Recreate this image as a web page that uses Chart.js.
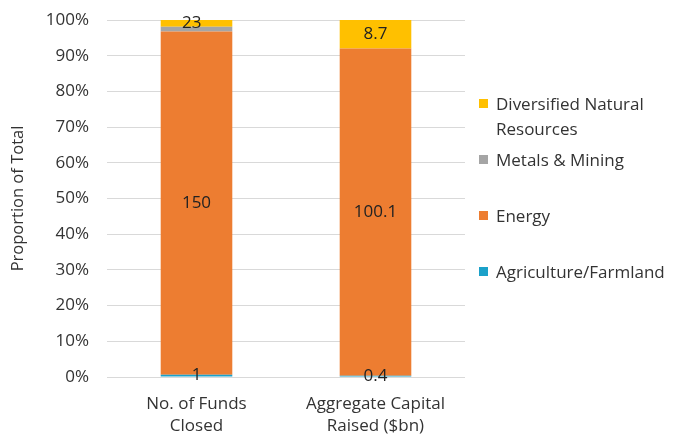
<!DOCTYPE html>
<html lang="en">
<head>
    <meta charset="UTF-8">
    <title>Proportion of Total</title>
    <script src="https://cdn.jsdelivr.net/npm/chart.js@4.4.1/dist/chart.umd.min.js"></script>
    <style>
        body {
            margin: 0;
            background: #fff;
            font-family: 'Open Sans', sans-serif;
        }
        #wrap {
            position: relative;
            width: 683px;
            height: 436px;
        }
        .legend-item {
            position: absolute;
            left: 479px;
            font-size: 17px;
            line-height: 25px;
            color: #333;
        }
        .legend-item span {
            position: absolute;
            left: 0;
            top: 8px;
            width: 9px;
            height: 9px;
        }
        .legend-item div {
            margin-left: 17px;
            white-space: nowrap;
        }
    </style>
</head>
<body>
    <div id="wrap">
        <canvas id="chart" width="683" height="436"></canvas>
        <div id="legend"></div>
    </div>

    <script>
        const categories = [['No. of Funds', 'Closed'], ['Aggregate Capital', 'Raised ($bn)']];
        const seriesNames = ['Agriculture/Farmland', 'Energy', 'Metals & Mining', 'Diversified Natural Resources'];
        const agriculture = [1, 0.4];
        const energy = [150, 100.1];
        const metals = [2, 0];
        const diversified = [3, 8.7];
        const yTicks = [0, 10, 20, 30, 40, 50, 60, 70, 80, 90, 100];

        const colors = ['#1BA1C9', '#ED7D31', '#A5A5A5', '#FFC000'];
        const series = [agriculture, energy, metals, diversified];
        const totals = categories.map((c, i) => series.reduce((s, arr) => s + arr[i], 0));

        // legend on the right, top series first
        const legendTops = [91, 147, 203, 259];
        const legendLines = [['Diversified Natural', 'Resources'], ['Metals & Mining'], ['Energy'], ['Agriculture/Farmland']];
        const legendEl = document.getElementById('legend');
        legendLines.forEach((lines, k) => {
            const idx = series.length - 1 - k;
            const item = document.createElement('div');
            item.className = 'legend-item';
            item.style.top = legendTops[k] + 'px';
            item.innerHTML = `<span style="background:${colors[idx]}"></span><div>${lines.join('<br>')}</div>`;
            legendEl.appendChild(item);
        });

        // value labels in the middle of each segment
        const segmentLabels = {
            id: 'segmentLabels',
            afterDatasetsDraw(chart) {
                const ctx = chart.ctx;
                ctx.save();
                ctx.font = '17px "Open Sans"';
                ctx.fillStyle = '#222';
                ctx.textBaseline = 'middle';
                categories.forEach((c, i) => {
                    const placed = [];
                    for (let d = series.length - 1; d >= 0; d--) {
                        const v = series[d][i];
                        if (!v) continue;
                        const bar = chart.getDatasetMeta(d).data[i];
                        const txt = String(v);
                        const w = ctx.measureText(txt).width;
                        let x = bar.x - w / 2;
                        let y = (bar.y + bar.base) / 2;
                        const prev = placed[placed.length - 1];
                        if (prev && Math.abs(prev.y - y) < 14) {
                            x = prev.x - w;
                            y = prev.y;
                        }
                        ctx.textAlign = 'left';
                        ctx.fillText(txt, x, y);
                        placed.push({ x, y });
                    }
                });
                ctx.restore();
            }
        };

        new Chart(document.getElementById('chart'), {
            type: 'bar',
            data: {
                labels: categories,
                datasets: series.map((arr, d) => ({
                    label: seriesNames[d],
                    data: arr.map((v, i) => v / totals[i] * 100),
                    backgroundColor: colors[d],
                    categoryPercentage: 1,
                    barPercentage: 0.4
                }))
            },
            options: {
                responsive: false,
                animation: false,
                layout: { padding: { top: 20, right: 218, left: 0, bottom: 0 } },
                plugins: {
                    legend: { display: false },
                    tooltip: { enabled: false }
                },
                scales: {
                    x: {
                        stacked: true,
                        grid: { display: false },
                        border: { display: false },
                        ticks: {
                            padding: 8,
                            color: '#333',
                            font: { family: 'Open Sans', size: 17, lineHeight: 22 / 17 }
                        },
                        afterFit(scale) { scale.height = 59; }
                    },
                    y: {
                        stacked: true,
                        min: 0,
                        max: 100,
                        afterBuildTicks(scale) { scale.ticks = yTicks.map(v => ({ value: v })); },
                        grid: { color: '#D9D9D9', drawTicks: false },
                        border: { display: false },
                        ticks: {
                            padding: 18,
                            color: '#333',
                            font: { family: 'Open Sans', size: 17 },
                            callback: v => v + '%'
                        },
                        title: {
                            display: true,
                            text: 'Proportion of Total',
                            color: '#333',
                            font: { family: 'Open Sans', size: 16.5 },
                            padding: { top: 8, bottom: 0 }
                        },
                        afterFit(scale) {
                            scale.width = 107;
                            scale.paddingTop = 0;
                            scale.paddingBottom = 0;
                        }
                    }
                }
            },
            plugins: [segmentLabels]
        });
    </script>
</body>
</html>
